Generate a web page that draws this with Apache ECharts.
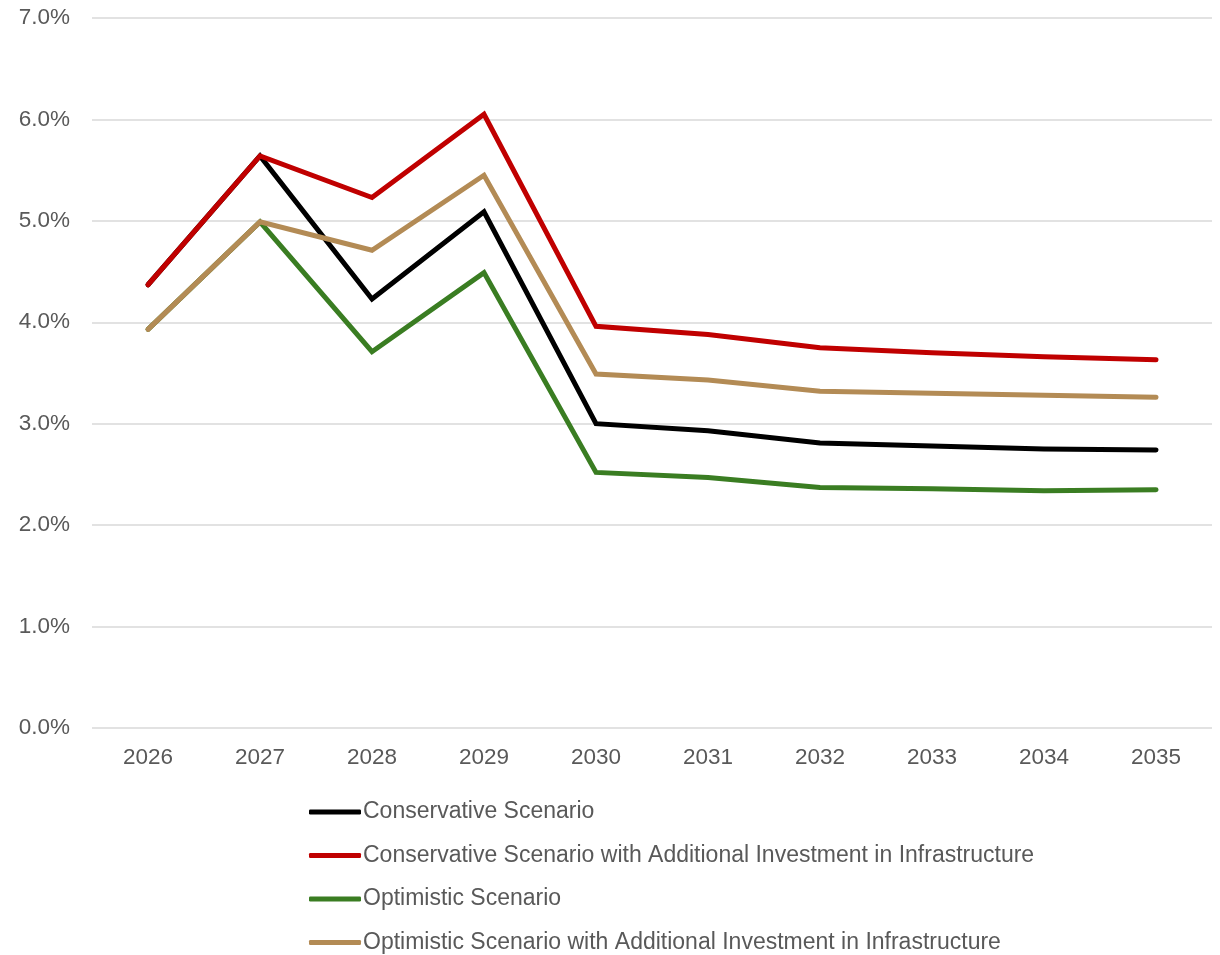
<!DOCTYPE html>
<html>
<head>
<meta charset="utf-8">
<script src="https://cdn.jsdelivr.net/npm/echarts@6/dist/echarts.min.js"></script>
<style>
  html, body { margin: 0; padding: 0; background: #fff; }
  #chart { width: 1220px; height: 955px; }
</style>
</head>
<body>
<div id="chart"></div>
<script>
// years on the x axis
var years = ['2026', '2027', '2028', '2029', '2030', '2031', '2032', '2033', '2034', '2035']
// growth rates in %
var conservative = [4.37, 5.64, 4.23, 5.09, 3.00, 2.93, 2.81, 2.78, 2.75, 2.74]
var conservativeInfra = [4.37, 5.64, 5.23, 6.05, 3.96, 3.88, 3.75, 3.70, 3.66, 3.63]
var optimistic = [3.93, 4.99, 3.71, 4.49, 2.52, 2.47, 2.37, 2.36, 2.34, 2.35]
var optimisticInfra = [3.93, 4.99, 4.71, 5.45, 3.49, 3.43, 3.32, 3.30, 3.28, 3.26]

var names = [
  'Conservative Scenario',
  'Conservative Scenario with Additional Investment in Infrastructure',
  'Optimistic Scenario',
  'Optimistic Scenario with Additional Investment in Infrastructure'
]
var colors = ['#000000', '#C00000', '#3A7D22', '#B38B55']
var values = [conservative, conservativeInfra, optimistic, optimisticInfra]

var font = 'Liberation Sans, Arial, sans-serif'
var grey = '#595959'

var series = []
for (var i = 0; i < names.length; i++) {
  series.push({
    name: names[i],
    type: 'line',
    data: values[i],
    symbol: 'none',
    lineStyle: { width: 5, color: colors[i], cap: 'round', join: 'miter' },
    itemStyle: { color: colors[i] }
  })
}

var myChart = echarts.init(document.getElementById('chart'))
var option = {
  animation: false,
  grid: { left: 92, right: 8, top: 18, bottom: 227 },
  legend: {
    orient: 'vertical',
    left: 304,
    top: 795,
    height: 160,
    width: 900,
    itemWidth: 52,
    itemHeight: 5,
    itemGap: 19.5,
    icon: 'roundRect',
    textStyle: { fontFamily: font, fontSize: 23, color: grey, lineHeight: 24, padding: [0, 0, 0, -3] },
    data: names
  },
  xAxis: {
    type: 'category',
    data: years,
    boundaryGap: true,
    axisLine: { show: false },
    axisTick: { show: false },
    axisLabel: { fontFamily: font, fontSize: 22.5, color: grey, margin: 18 }
  },
  yAxis: {
    type: 'value',
    min: 0,
    max: 7,
    interval: 1,
    axisLine: { show: false },
    axisTick: { show: false },
    splitLine: { lineStyle: { color: '#D9D9D9', width: 1.5 } },
    axisLabel: {
      fontFamily: font, fontSize: 22.5, color: grey, margin: 22,
      formatter: function (v) { return v.toFixed(1) + '%' }
    }
  },
  series: series
}
myChart.setOption(option)
</script>
</body>
</html>
